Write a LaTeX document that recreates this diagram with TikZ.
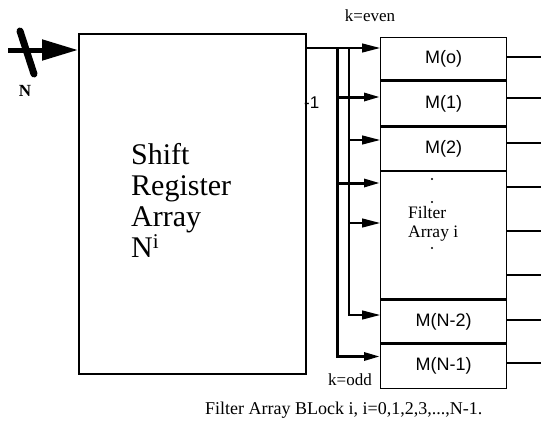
\documentclass[tikz,border=0pt]{standalone}
\usepackage{fontspec}
\setmainfont{Liberation Serif}
\newfontfamily\sansf{Liberation Sans}
\usetikzlibrary{arrows.meta}
\begin{document}
\begin{tikzpicture}[x=1pt,y=-1pt,
  cell/.style={draw,line width=1.3pt,minimum width=126pt,inner sep=0pt,font=\sansf\fontsize{18}{20}\selectfont},
  thinw/.style={line width=1.3pt,-{Triangle[length=18pt,width=9pt]}},
  thickw/.style={line width=3pt,-{Triangle[length=16pt,width=8pt]}},
  outw/.style={line width=1.3pt},
  lbl/.style={font=\fontsize{17}{19}\selectfont,inner sep=0pt}]
\useasboundingbox (0,0) rectangle (541,426);
% shift register
\node[draw,line width=1.8pt,minimum width=227pt,minimum height=340pt,anchor=north west,inner sep=0pt] (sr) at (78,33) {};
\node[anchor=north west,align=left,inner sep=0pt,font=\fontsize{30}{31}\selectfont] (srt) at (131,143) {Shift\\Register\\Array\\N$^{\mathrm{i}}$};
% input
\coordinate (inp) at (8,50);
\draw[line width=5pt,-{Triangle[length=36pt,width=20pt]}] (inp) -- (sr.west |- inp);
\coordinate (s1) at (20,31);
\coordinate (s2) at (34,74);
\draw[line width=7pt,line cap=round] (s1) -- (s2);
\node[font=\bfseries\fontsize{17}{19}\selectfont,inner sep=0pt] (nl) at (25,91) {N};
% cells
\node[cell,anchor=north west,minimum height=42pt] (m0) at (380,37) {M(o)};
\node[cell,anchor=north west,minimum height=45pt] (m1) at (m0.south west) {M(1)};
\node[cell,anchor=north west,minimum height=43pt] (m2) at (m1.south west) {M(2)};
\node[cell,anchor=north west,minimum height=127pt] (fa) at (m2.south west) {};
\node[cell,anchor=north west,minimum height=43pt] (mn2) at (fa.south west) {M(N-2)};
\node[cell,anchor=north west,minimum height=44pt] (mn1) at (mn2.south west) {M(N-1)};
\node[lbl,align=left,anchor=north west,font=\fontsize{17.5}{19}\selectfont] (fat) at (408,206) {Filter\\Array i};
\fill (432,179) circle (1.2pt) (432,202) circle (1.2pt) (432,248) circle (1.2pt);
% labels
\node[lbl] (ke) at (370,16) {k=even};
\node[lbl] (ko) at (350,380) {k=odd};
\node[font=\sansf\fontsize{17}{19}\selectfont,inner sep=0pt,anchor=west] (m1l) at (304,103) {-1};
% buses
\coordinate (ta) at (337,48);
\coordinate (tb) at (349,48);
\draw[thinw] (sr.east |- ta) -- (m0.west |- ta);
\draw[line width=3pt] (ta) -- (337,358);
\draw[thickw] (337,356.5) -- (mn1.west |- 0,356.5);
\draw[line width=1.3pt] (tb) -- (349,316);
\draw[thinw] (349,315) -- (mn2.west |- 0,315);
\draw[thickw] (337,97) -- (m1.west |- 0,97);
\draw[thinw] (349,140) -- (m2.west |- 0,140);
\draw[thickw] (337,183) -- (fa.west |- 0,183);
\draw[thinw] (349,223) -- (fa.west |- 0,223);
% outputs
\foreach \y/\n in {57/m0,98/m1,143/m2,187/fa,231/fa,275/fa,320/mn2,363/mn1}
  \draw[outw] (\n.east |- 0,\y) -- (541,\y);
% caption
\node[font=\fontsize{18}{20}\selectfont,inner sep=0pt,anchor=west] (cap) at (205,410) {Filter Array BLock i, i=0,1,2,3,...,N-1.};
\end{tikzpicture}
\end{document}
